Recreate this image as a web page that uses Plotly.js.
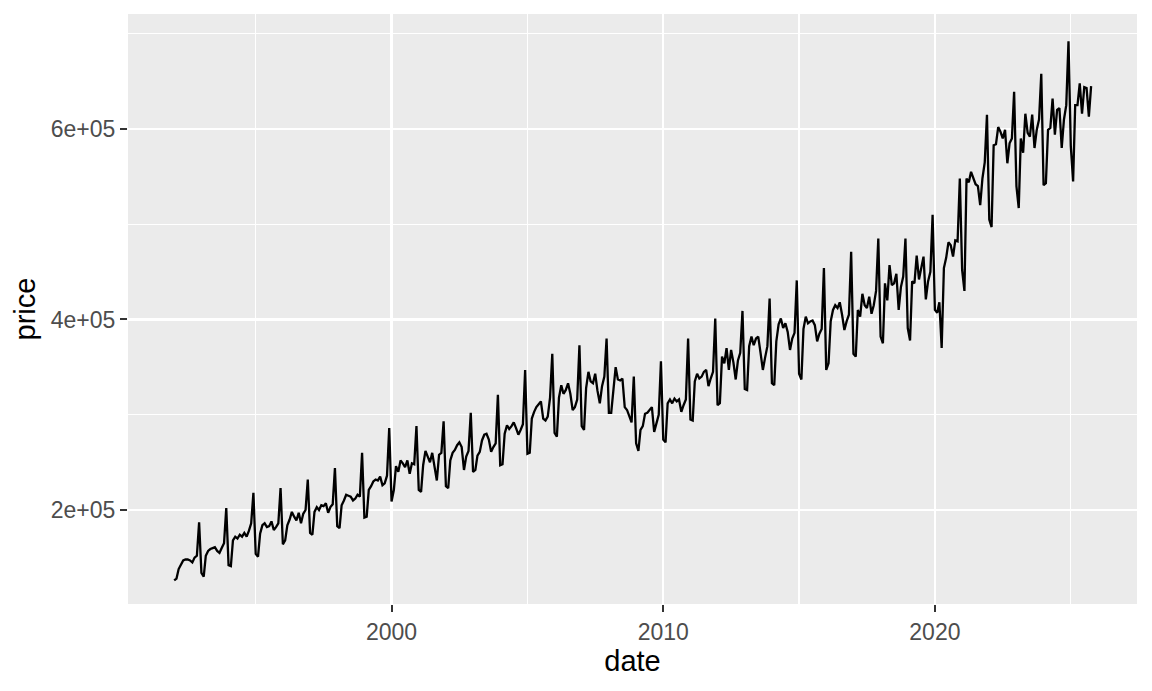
<!DOCTYPE html>
<html>
<head>
<meta charset="utf-8">
<script src="https://cdn.plot.ly/plotly-3.0.1.min.js"></script>
<style>html,body{margin:0;padding:0;background:#fff;}#chart{width:1152px;height:691px;}</style>
</head>
<body>
<div id="chart"></div>
<script>
// Monthly prices, starting January of the first year of each block
const startYear1990s = 1992;
const prices1990s = [
  126000,128000,138000,142000,147000,148000,148000,147000,145000,150000,152000,187000,
  134000,130000,152000,157000,159000,160000,161000,157000,155000,160000,165000,202000,
  142000,141000,168000,172000,170000,174000,172000,176000,172000,178000,186000,218000,
  154000,151000,175000,184000,186000,182000,183000,188000,179000,182000,186000,223000,
  164000,168000,184000,190000,198000,193000,189000,197000,186000,196000,200000,232000,
  176000,174000,198000,203000,200000,205000,204000,207000,197000,203000,206000,244000,
  183000,181000,205000,210000,216000,215000,214000,210000,212000,216000,214000,260000,
  192000,193000,221000,225000,230000,232000,231000,235000,226000,228000,236000,286000
];
const startYear2000s = 2000;
const prices2000s = [
  209000,221000,246000,240000,252000,249000,245000,252000,238000,249000,248000,288000,
  221000,219000,247000,262000,256000,250000,260000,246000,231000,258000,260000,293000,
  225000,223000,252000,260000,263000,268000,271000,266000,242000,256000,262000,302000,
  240000,242000,257000,261000,273000,279000,280000,274000,261000,266000,270000,321000,
  247000,248000,280000,289000,285000,288000,292000,286000,279000,284000,290000,347000,
  259000,260000,296000,303000,308000,311000,314000,296000,294000,298000,318000,364000,
  281000,277000,318000,331000,322000,326000,333000,322000,305000,308000,316000,373000,
  288000,284000,328000,345000,335000,333000,343000,325000,312000,330000,340000,380000,
  302000,302000,328000,350000,337000,336000,338000,308000,305000,298000,292000,340000,
  270000,262000,284000,288000,301000,302000,305000,308000,282000,290000,300000,356000
];
const startYear2010s = 2010;
const prices2010s = [
  274000,271000,312000,316000,312000,317000,314000,316000,303000,310000,316000,380000,
  295000,294000,335000,343000,338000,340000,345000,347000,330000,338000,345000,401000,
  310000,312000,361000,354000,370000,347000,368000,355000,337000,357000,365000,409000,
  327000,326000,372000,382000,373000,380000,382000,365000,347000,360000,372000,422000,
  333000,331000,377000,395000,401000,391000,396000,387000,368000,380000,386000,441000,
  343000,337000,390000,403000,396000,398000,399000,394000,377000,385000,390000,454000,
  347000,354000,398000,410000,415000,412000,418000,405000,389000,398000,405000,471000,
  364000,361000,410000,403000,427000,415000,412000,424000,406000,415000,430000,485000,
  382000,375000,438000,420000,457000,436000,438000,448000,410000,434000,445000,485000,
  391000,378000,440000,438000,467000,442000,455000,466000,421000,440000,450000,510000
];
const startYear2020s = 2020;
const prices2020s = [
  410000,407000,418000,370000,454000,465000,481000,478000,466000,483000,482000,548000,
  452000,430000,548000,544000,555000,549000,542000,540000,520000,548000,565000,615000,
  505000,497000,583000,584000,602000,597000,590000,599000,564000,585000,590000,639000,
  540000,517000,590000,575000,616000,596000,592000,615000,580000,599000,610000,658000,
  541000,543000,599000,601000,632000,594000,620000,622000,580000,610000,625000,692000,
  582000,545000,625000,625000,648000,616000,644000,643000,613000,645000
];

const xTickVals = ['2000-01-01','2010-01-01','2020-01-01'];
const xTickText = ['2000','2010','2020'];
const xMinorVals = ['1995-01-01','2005-01-01','2015-01-01','2025-01-01'];
const yTickVals = [200000,400000,600000];
const yTickText = ['2e+05','4e+05','6e+05'];
const yMinorVals = [300000,500000,700000];

function monthDates(startYear, n) {
  const out = [];
  for (let i = 0; i < n; i++) {
    const y = startYear + Math.floor(i / 12);
    const m = (i % 12) + 1;
    out.push(y + '-' + String(m).padStart(2, '0') + '-01');
  }
  return out;
}

const dates = [].concat(
  monthDates(startYear1990s, prices1990s.length),
  monthDates(startYear2000s, prices2000s.length),
  monthDates(startYear2010s, prices2010s.length),
  monthDates(startYear2020s, prices2020s.length)
);
const prices = [].concat(prices1990s, prices2000s, prices2010s, prices2020s);

const trace = {
  x: dates, y: prices, type: 'scatter', mode: 'lines',
  line: {color: '#000000', width: 2.3},
  hoverinfo: 'x+y'
};

const font = {family: 'Liberation Sans, Arial, Helvetica, sans-serif'};

const layout = {
  width: 1152, height: 691,
  margin: {l: 128, r: 15, t: 14, b: 87},
  paper_bgcolor: '#ffffff',
  plot_bgcolor: '#EBEBEB',
  showlegend: false,
  font: font,
  xaxis: {
    type: 'date',
    range: ['1990-04-20', '2027-06-10'],
    tickmode: 'array', tickvals: xTickVals, ticktext: xTickText,
    showgrid: true, gridcolor: '#ffffff', gridwidth: 2.4,
    zeroline: false, showline: false,
    ticks: 'outside', ticklen: 7, tickwidth: 2, tickcolor: '#333333',
    tickfont: {size: 23, color: '#4D4D4D', family: font.family},
    minor: {tickmode: 'array', tickvals: xMinorVals, showgrid: true, gridcolor: '#ffffff', gridwidth: 1.2, ticks: ''},
    title: {text: 'date', font: {size: 29, color: '#000000', family: font.family}, standoff: 6}
  },
  yaxis: {
    range: [101300, 720700],
    tickmode: 'array', tickvals: yTickVals, ticktext: yTickText,
    showgrid: true, gridcolor: '#ffffff', gridwidth: 2.4,
    zeroline: false, showline: false,
    ticks: 'outside', ticklen: 7, tickwidth: 2, tickcolor: '#333333',
    tickfont: {size: 23, color: '#4D4D4D', family: font.family},
    minor: {tickmode: 'array', tickvals: yMinorVals, showgrid: true, gridcolor: '#ffffff', gridwidth: 1.2, ticks: ''},
    title: {text: 'price', font: {size: 29, color: '#000000', family: font.family}, standoff: 6}
  }
};

Plotly.newPlot('chart', [trace], layout, {displayModeBar: false, staticPlot: true});
</script>
</body>
</html>
